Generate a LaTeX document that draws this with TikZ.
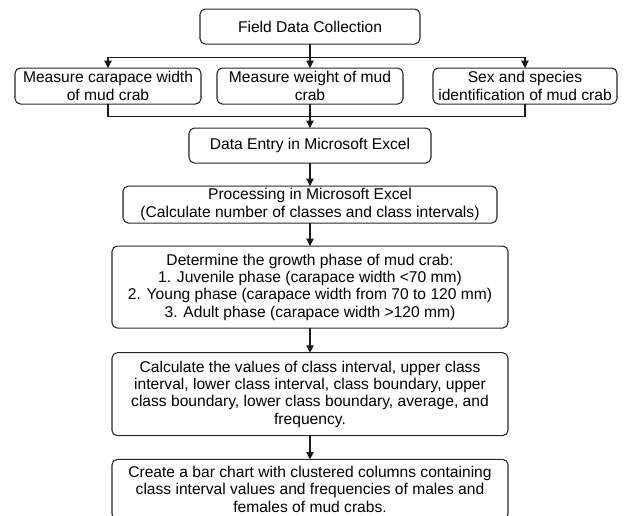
\documentclass[tikz,border=0pt]{standalone}
\usepackage{fontspec}
\setmainfont{Liberation Sans}
\usetikzlibrary{positioning,arrows.meta}

\begin{document}
\begin{tikzpicture}[
box/.style = {draw=black!85, line width=0.8pt, rounded corners=4pt, align=center, inner sep=1pt, outer sep=0pt,
  font=\fontsize{11.7}{13}\selectfont},
arrow/.style = {draw=black!90, line width=0.8pt, -{Triangle[length=5.5pt,width=5.5pt]}},
link/.style = {draw=black!90, line width=0.8pt}
]
\useasboundingbox (0,0) rectangle (468pt,-386.25pt);
\node [box, minimum width=165pt, minimum height=26.25pt] (field) at (232.5pt,-19.9pt) {Field Data Collection};
\node [box, below = 18pt of field, minimum width=139.5pt, minimum height=27pt] (weight) {Measure weight of mud\\crab};
\node [box, left = 12pt of weight, minimum width=139.5pt, minimum height=27pt] (width) {Measure carapace width\\of mud crab};
\node [box, right = 22.5pt of weight, minimum width=138pt, minimum height=27pt] (sex) {Sex and species\\identification of mud crab};
\node [box, below = 18pt of weight, minimum width=181.5pt, minimum height=26.25pt] (entry) {Data Entry in Microsoft Excel};
\node [box, below = 17.25pt of entry, minimum width=280.5pt, minimum height=27.75pt] (proc) {Processing in Microsoft Excel\\(Calculate number of classes and class intervals)};
\node [box, below = 17.25pt of proc, minimum width=297pt, minimum height=61.5pt] (phase) {Determine the growth phase of mud crab:\\1. Juvenile phase (carapace width <70 mm)\\2. Young phase (carapace width from 70 to 120 mm)\\3. Adult phase (carapace width >120 mm)};
\node [box, below = 18.5pt of phase, minimum width=297pt, minimum height=62.25pt] (calc) {Calculate the values of class interval, upper class\\interval, lower class interval, class boundary, upper\\class boundary, lower class boundary, average, and\\frequency.};
\node [box, below = 17.75pt of calc, minimum width=297pt, minimum height=45pt] (chart) {Create a bar chart with clustered columns containing\\class interval values and frequencies of males and\\females of mud crabs.};
\coordinate [below = 9.75pt of field] (split);
\coordinate [above = 9pt of entry] (merge);
\draw [arrow] (field) -- (weight);
\draw [arrow] (split) -| (width);
\draw [arrow] (split) -| (sex);
\draw [link] (width) |- (merge);
\draw [link] (sex) |- (merge);
\draw [arrow] (weight) -- (entry);
\draw [arrow] (entry) -- (proc);
\draw [arrow] (proc) -- (phase);
\draw [arrow] (phase) -- (calc);
\draw [arrow] (calc) -- (chart);
\end{tikzpicture}
\end{document}
